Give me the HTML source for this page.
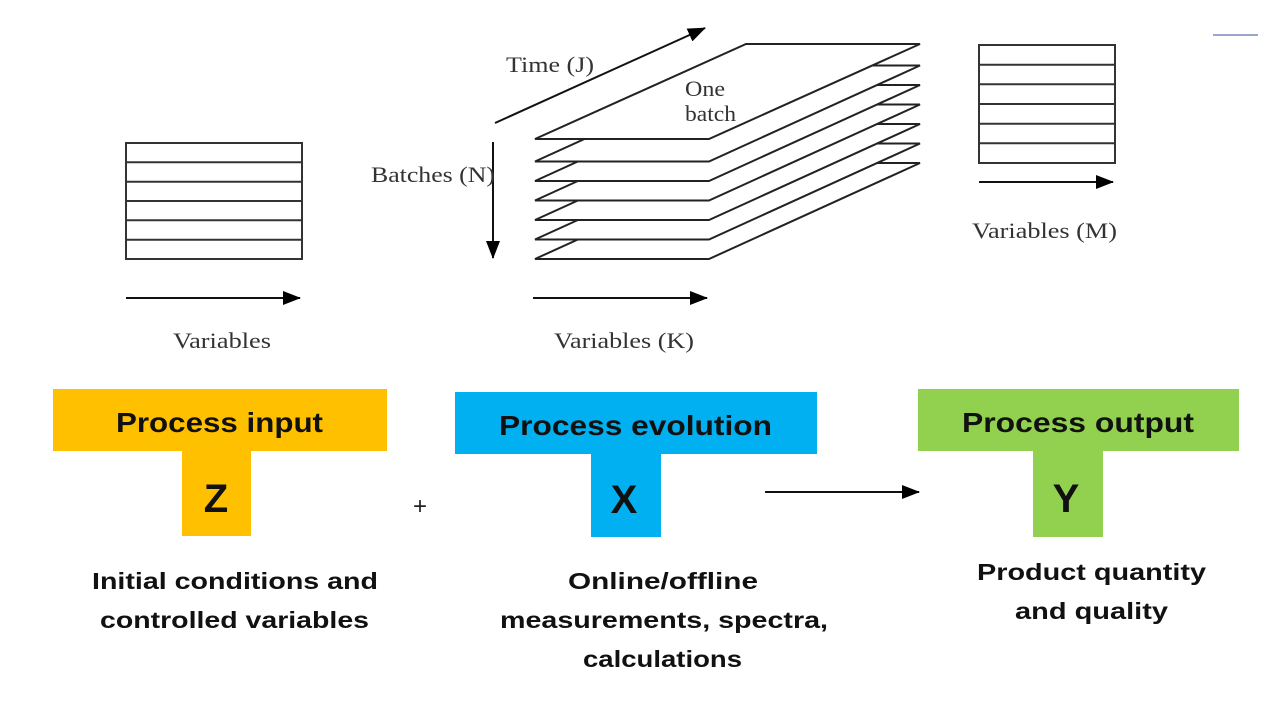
<!DOCTYPE html>
<html><head><meta charset="utf-8"><style>
body{margin:0;background:#fff;width:1280px;height:703px;overflow:hidden}
svg{display:block}
.s{font-family:"Liberation Serif",serif;font-size:22px;fill:#333}
.b{font-family:"Liberation Sans",sans-serif;font-weight:bold;fill:#111}
</style></head><body>
<svg width="1280" height="703" viewBox="0 0 1280 703">
<defs>
<marker id="a2" markerWidth="18" markerHeight="14" refX="17" refY="7" orient="auto" markerUnits="userSpaceOnUse"><path d="M0,0 L18,7 L0,14z" fill="#000"/></marker></defs>
<g stroke="#333" stroke-width="2" fill="none">
<rect x="126" y="143" width="176" height="116"/>
<path d="M126 162.3H302M126 181.7H302M126 201H302M126 220.3H302M126 239.7H302"/>
<rect x="979" y="45" width="136" height="118"/>
<path d="M979 64.7H1115M979 84.3H1115M979 104H1115M979 123.7H1115M979 143.3H1115"/>
</g>
<g stroke="#222" stroke-width="2" fill="#fff">
<path d="M535 259H709L920 163H746Z"/>
<path d="M535 239.5H709L920 143.5H746Z"/>
<path d="M535 220H709L920 124H746Z"/>
<path d="M535 200.5H709L920 104.5H746Z"/>
<path d="M535 181H709L920 85H746Z"/>
<path d="M535 161.5H709L920 65.5H746Z"/>
<path d="M535 139H709L920 44H746Z"/>
</g>
<g stroke="#111" stroke-width="2">
<line x1="495" y1="123" x2="705" y2="28" marker-end="url(#a2)"/>
<line x1="493" y1="142" x2="493" y2="258" marker-end="url(#a2)"/>
<line x1="126" y1="298" x2="300" y2="298" marker-end="url(#a2)"/>
<line x1="533" y1="298" x2="707" y2="298" marker-end="url(#a2)"/>
<line x1="979" y1="182" x2="1113" y2="182" marker-end="url(#a2)"/>
<line x1="765" y1="492" x2="919" y2="492" marker-end="url(#a2)"/>
</g>
<line x1="1213" y1="35" x2="1258" y2="35" stroke="#9aa6cf" stroke-width="2"/>
<text class="s" x="506" y="72" textLength="88" lengthAdjust="spacingAndGlyphs">Time (J)</text>
<text class="s" x="685" y="96" textLength="40" lengthAdjust="spacingAndGlyphs">One</text>
<text class="s" x="685" y="121" textLength="51" lengthAdjust="spacingAndGlyphs">batch</text>
<text class="s" x="371" y="182" textLength="124" lengthAdjust="spacingAndGlyphs">Batches (N)</text>
<text class="s" x="173" y="348" textLength="98" lengthAdjust="spacingAndGlyphs">Variables</text>
<text class="s" x="554" y="348" textLength="140" lengthAdjust="spacingAndGlyphs">Variables (K)</text>
<text class="s" x="972" y="238" textLength="145" lengthAdjust="spacingAndGlyphs">Variables (M)</text>
<rect x="53" y="389" width="334" height="62" fill="#FFC000"/>
<rect x="182" y="450" width="69" height="86" fill="#FFC000"/>
<rect x="455" y="392" width="362" height="62" fill="#00B0F0"/>
<rect x="591" y="453" width="70" height="84" fill="#00B0F0"/>
<rect x="918" y="389" width="321" height="62" fill="#92D050"/>
<rect x="1033" y="450" width="70" height="87" fill="#92D050"/>
<g class="b">
<text x="116" y="432" font-size="28" textLength="207" lengthAdjust="spacingAndGlyphs">Process input</text>
<text x="499" y="435" font-size="28" textLength="273" lengthAdjust="spacingAndGlyphs">Process evolution</text>
<text x="962" y="432" font-size="28" textLength="232" lengthAdjust="spacingAndGlyphs">Process output</text>
<text x="216" y="512" font-size="40" text-anchor="middle">Z</text>
<text x="624" y="513" font-size="40" text-anchor="middle">X</text>
<text x="1066" y="512" font-size="40" text-anchor="middle">Y</text>
<text x="92" y="589" font-size="23" textLength="286" lengthAdjust="spacingAndGlyphs">Initial conditions and</text>
<text x="100" y="628" font-size="23" textLength="269" lengthAdjust="spacingAndGlyphs">controlled variables</text>
<text x="568" y="589" font-size="23" textLength="190" lengthAdjust="spacingAndGlyphs">Online/offline</text>
<text x="500" y="628" font-size="23" textLength="328" lengthAdjust="spacingAndGlyphs">measurements, spectra,</text>
<text x="583" y="667" font-size="23" textLength="159" lengthAdjust="spacingAndGlyphs">calculations</text>
<text x="977" y="580" font-size="23" textLength="229" lengthAdjust="spacingAndGlyphs">Product quantity</text>
<text x="1015" y="619" font-size="23" textLength="153" lengthAdjust="spacingAndGlyphs">and quality</text>
</g>
<text x="420" y="514" font-family="Liberation Sans,sans-serif" font-size="24" text-anchor="middle" fill="#222">+</text>
</svg>
</body></html>
